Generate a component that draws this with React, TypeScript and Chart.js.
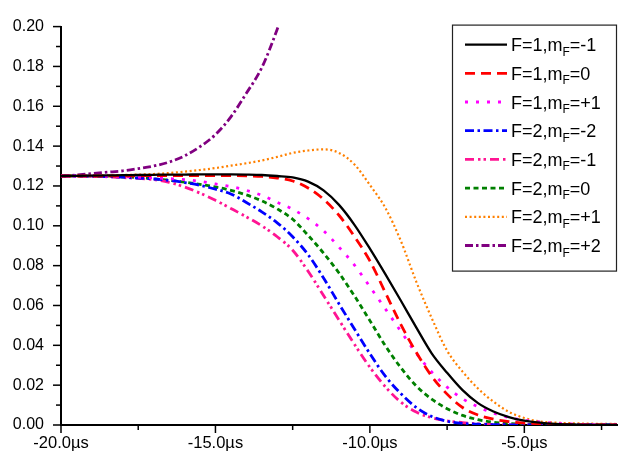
import React, { useEffect, useRef } from 'react';
import { Chart, registerables } from 'chart.js';

Chart.register(...registerables);

// time axis (µs)
const times = [-20, -19.5, -19, -18.5, -18, -17.5, -17, -16.5, -16, -15.5, -15, -14.5, -14, -13.5, -13, -12.5, -12, -11.5, -11, -10.5, -10, -9.5, -9, -8.5, -8, -7.5, -7, -6.5, -6, -5.5, -5, -4.5, -4, -3.5, -3, -2.5, -2];

const f1m1 = [0.125, 0.1251, 0.1252, 0.1253, 0.1254, 0.1255, 0.1256, 0.1257, 0.1257, 0.1258, 0.1258, 0.1258, 0.1257, 0.1255, 0.125, 0.1243, 0.1222, 0.1178, 0.1105, 0.1005, 0.0885, 0.0757, 0.0625, 0.049, 0.036, 0.0262, 0.0175, 0.011, 0.0068, 0.004, 0.0022, 0.0012, 0.0006, 0.0003, 0.0001, 0, 0];
const f1m0 = [0.125, 0.125, 0.125, 0.125, 0.1251, 0.1251, 0.1252, 0.1252, 0.1252, 0.1252, 0.1252, 0.1252, 0.1251, 0.1248, 0.124, 0.1225, 0.119, 0.1133, 0.1053, 0.0946, 0.0824, 0.0665, 0.0505, 0.0365, 0.0245, 0.0155, 0.0088, 0.005, 0.0029, 0.0017, 0.001, 0.0006, 0.0003, 0.0001, 0, 0, 0];
const f1p1 = [0.125, 0.125, 0.1249, 0.1248, 0.1246, 0.1244, 0.1241, 0.1237, 0.1232, 0.1223, 0.121, 0.1197, 0.1178, 0.1153, 0.1118, 0.1083, 0.1036, 0.0975, 0.0893, 0.0803, 0.0694, 0.0583, 0.0471, 0.036, 0.0266, 0.019, 0.0132, 0.0091, 0.006, 0.0038, 0.0024, 0.0015, 0.0009, 0.0005, 0.0003, 0.0001, 0];
const f2m2 = [0.125, 0.125, 0.1249, 0.1247, 0.1244, 0.124, 0.1235, 0.1228, 0.1217, 0.1203, 0.1184, 0.116, 0.1117, 0.107, 0.1015, 0.0945, 0.0855, 0.0738, 0.0608, 0.0482, 0.0358, 0.0245, 0.0158, 0.0088, 0.0043, 0.0019, 0.0008, 0.0004, 0.0002, 0.0001, 0, 0, 0, 0, 0, 0, 0];
const f2m1 = [0.125, 0.125, 0.1249, 0.1246, 0.1242, 0.1238, 0.1232, 0.1218, 0.1195, 0.1164, 0.1128, 0.1087, 0.1045, 0.1, 0.0945, 0.0877, 0.0772, 0.065, 0.0527, 0.0405, 0.029, 0.0192, 0.0115, 0.0065, 0.0037, 0.0021, 0.0012, 0.0006, 0.0003, 0.0001, 0, 0, 0, 0, 0, 0, 0];
const f2m0 = [0.125, 0.125, 0.1249, 0.1247, 0.1245, 0.1242, 0.1236, 0.1228, 0.1219, 0.1208, 0.1195, 0.1178, 0.1155, 0.1125, 0.1085, 0.1033, 0.0952, 0.0863, 0.0763, 0.0648, 0.0524, 0.0398, 0.0288, 0.0196, 0.013, 0.0082, 0.0048, 0.0027, 0.0014, 0.0008, 0.0004, 0.0002, 0.0001, 0, 0, 0, 0];
const f2p1 = [0.125, 0.1251, 0.1252, 0.1253, 0.1255, 0.1257, 0.126, 0.1265, 0.1272, 0.128, 0.129, 0.1302, 0.1314, 0.1328, 0.1346, 0.1366, 0.1378, 0.1384, 0.1366, 0.1308, 0.1205, 0.109, 0.0925, 0.072, 0.0537, 0.0373, 0.0268, 0.0183, 0.0117, 0.0066, 0.0035, 0.0018, 0.0012, 0.0009, 0.0007, 0.0006, 0.0005];
const f2p2 = [0.125, 0.1255, 0.1262, 0.1269, 0.1276, 0.1287, 0.13, 0.132, 0.1351, 0.1397, 0.1458, 0.1547, 0.1665, 0.1794, 0.1987, 0.222];

const seriesValues = [f1m1, f1m0, f1p1, f2m2, f2m1, f2m0, f2p1, f2p2];
const seriesF = ['1', '1', '1', '2', '2', '2', '2', '2'];
const seriesMF = ['-1', '0', '+1', '-2', '-1', '0', '+1', '+2'];

const xTickValues = [-20, -15, -10, -5];

// styles
const seriesColors = ['#000000', '#FF0000', '#FF00FF', '#0000FF', '#FF1493', '#008000', '#FF8000', '#800080'];
const seriesDash = [[], [10, 6], [3, 8], [9, 3.5, 2.5, 3.5], [9, 4, 2.5, 3, 2.5, 4], [5, 3.5], [2, 2.6], [8, 3, 2.5, 3]];
const seriesWidth = [2.3, 2.8, 2.8, 2.8, 2.8, 2.8, 2.2, 2.8];

const FONT = '"Liberation Sans", Arial, sans-serif';

const tickPlugin = {
  id: 'minorMajorTicks',
  afterDraw(chart: any) {
    const { ctx, chartArea, scales } = chart;
    const x = scales.x;
    const y = scales.y;
    ctx.save();
    ctx.strokeStyle = '#000';
    ctx.lineWidth = 1.5;
    x.ticks.forEach((t: any) => {
      const px = x.getPixelForValue(t.value);
      const major = Math.abs(t.value / 5 - Math.round(t.value / 5)) < 1e-6;
      const len = major ? 8 : 5;
      ctx.beginPath();
      ctx.moveTo(px, chartArea.bottom);
      ctx.lineTo(px, chartArea.bottom + len);
      ctx.stroke();
    });
    y.ticks.forEach((t: any) => {
      const py = y.getPixelForValue(t.value);
      const major = Math.round(t.value * 100) % 2 === 0;
      const len = major ? 8 : 5;
      ctx.beginPath();
      ctx.moveTo(chartArea.left, py);
      ctx.lineTo(chartArea.left - len, py);
      ctx.stroke();
    });
    ctx.restore();
  },
};

const legendPlugin = {
  id: 'lineLegend',
  afterDraw(chart: any) {
    const { ctx, chartArea } = chart;
    const w = 164;
    const h = 246;
    const right = chartArea.right - 1;
    const left = right - w;
    const top = chartArea.top - 2;
    ctx.save();
    ctx.fillStyle = '#fff';
    ctx.fillRect(left, top, w, h);
    ctx.strokeStyle = '#222';
    ctx.lineWidth = 1.2;
    ctx.strokeRect(left + 0.5, top + 0.5, w, h);
    chart.data.datasets.forEach((ds: any, i: number) => {
      const yy = top + 20 + i * 28.7;
      ctx.save();
      ctx.setLineDash(ds.borderDash || []);
      ctx.lineWidth = ds.borderWidth;
      ctx.strokeStyle = ds.borderColor;
      ctx.beginPath();
      ctx.moveTo(left + 13, yy);
      ctx.lineTo(left + 55, yy);
      ctx.stroke();
      ctx.restore();
      const tx = left + 59;
      ctx.fillStyle = '#000';
      ctx.textBaseline = 'alphabetic';
      ctx.textAlign = 'left';
      ctx.font = `18px ${FONT}`;
      const part1 = `F=${seriesF[i]},m`;
      ctx.fillText(part1, tx, yy + 6.5);
      const w1 = ctx.measureText(part1).width;
      ctx.font = `12px ${FONT}`;
      ctx.fillText('F', tx + w1, yy + 11);
      const w2 = ctx.measureText('F').width;
      ctx.font = `18px ${FONT}`;
      ctx.fillText(`=${seriesMF[i]}`, tx + w1 + w2, yy + 6.5);
    });
    ctx.restore();
  },
};

export default function App() {
  const ref = useRef<HTMLCanvasElement>(null);
  useEffect(() => {
    const canvas = ref.current;
    if (!canvas) return;
    Chart.defaults.font.family = FONT;
    const datasets = seriesValues.map((vals, i) => ({
      label: `F=${seriesF[i]},mF=${seriesMF[i]}`,
      data: vals.map((v, k) => ({ x: times[k], y: v })),
      borderColor: seriesColors[i],
      backgroundColor: seriesColors[i],
      borderDash: seriesDash[i],
      borderWidth: seriesWidth[i],
      borderCapStyle: 'butt',
      pointRadius: 0,
      fill: false,
      cubicInterpolationMode: 'monotone',
    }));
    const chart = new Chart(canvas, {
      type: 'line',
      data: { datasets } as any,
      options: {
        responsive: false,
        animation: false,
        events: [],
        layout: { padding: { top: 14, right: 13, left: 0, bottom: 0 } },
        plugins: { legend: { display: false }, tooltip: { enabled: false } },
        scales: {
          x: {
            type: 'linear',
            min: -20,
            max: -2,
            afterFit: (s: any) => { s.height = 34; },
            grid: { display: true, drawOnChartArea: false, drawTicks: false },
            border: { display: true, color: '#000', width: 2 },
            ticks: {
              stepSize: 2.5,
              includeBounds: false,
              autoSkip: false,
              maxRotation: 0,
              padding: 9,
              color: '#000',
              font: { size: 16.5, family: FONT },
              callback: (v: any) => (xTickValues.includes(Number(v)) ? `${Number(v).toFixed(1)}µs` : ''),
            },
          },
          y: {
            type: 'linear',
            min: 0,
            max: 0.2,
            afterFit: (s: any) => { s.width = 61; },
            grid: { display: true, drawOnChartArea: false, drawTicks: false },
            border: { display: true, color: '#000', width: 2 },
            ticks: {
              stepSize: 0.01,
              autoSkip: false,
              padding: 17,
              color: '#000',
              font: { size: 16, family: FONT },
              callback: (v: any) => (Math.round(Number(v) * 100) % 2 === 0 ? Number(v).toFixed(2) : ''),
            },
          },
        },
      } as any,
      plugins: [tickPlugin, legendPlugin],
    });
    return () => chart.destroy();
  }, []);
  return (
    <div style={{ position: 'absolute', left: 0, top: 0, width: 630, height: 459, background: '#fff' }}>
      <canvas ref={ref} width={630} height={459} style={{ display: 'block' }} />
    </div>
  );
}
